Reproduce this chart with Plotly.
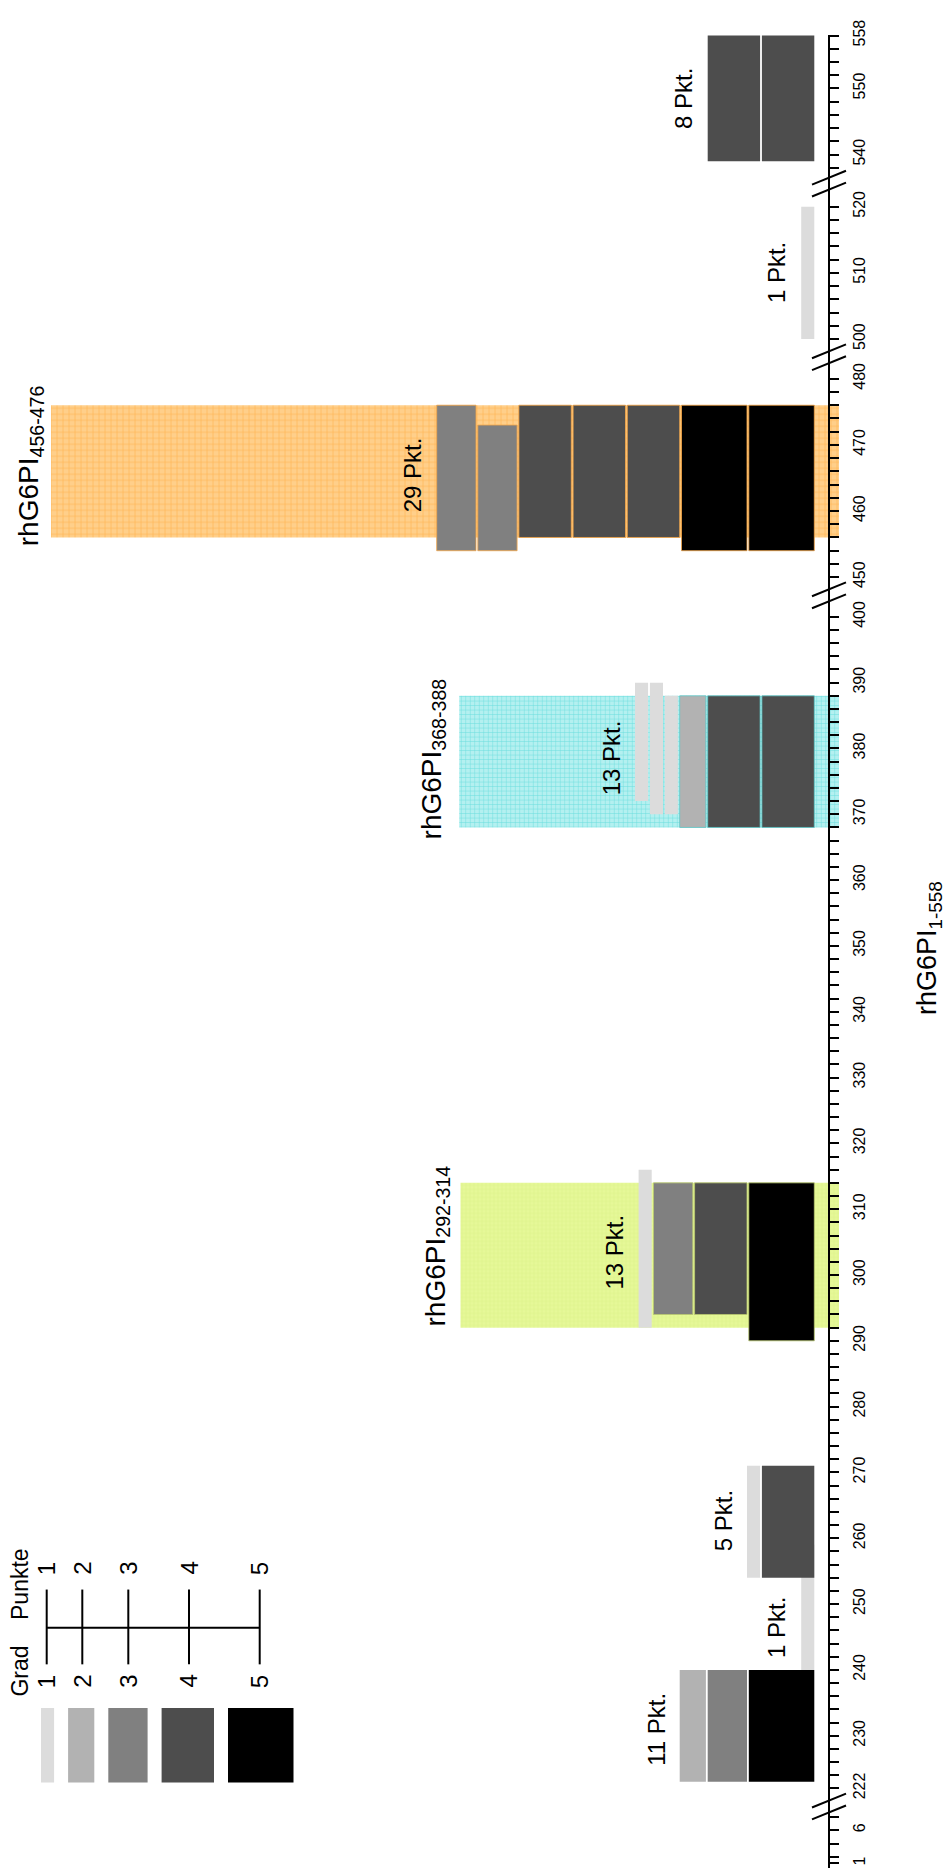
import plotly.graph_objects as go

# ------------------------- data -------------------------
# reactive groups along rhG6PI (residue ranges), stacked from the axis outwards
group_points = [11, 1, 5, 13, 13, 29, 1, 8]
group_starts = [[223, 223, 223], [240], [254, 254], [290, 294, 294, 292],
                [368, 368, 368, 370, 370, 372],
                [454, 454, 456, 456, 456, 454, 454], [500], [539, 539]]
group_ends = [[240, 240, 240], [259], [271, 271], [314, 314, 314, 316],
              [388, 388, 388, 388, 390, 390],
              [476, 476, 476, 476, 476, 473, 476], [520], [558, 558]]
group_grades = [[5, 3, 2], [1], [4, 1], [5, 4, 3, 1],
                [4, 4, 2, 1, 1, 1],
                [5, 5, 4, 4, 4, 3, 3], [1], [4, 4]]

# peptides (highlighted regions)
pep_start = [292, 368, 456]
pep_end = [314, 388, 476]
pep_label = ["292-314", "368-388", "456-476"]
protein_label = "1-558"

# axis tick labels per axis segment (broken axis)
seg_labels = [[1, 6],
              [222, 230, 240, 250, 260, 270, 280, 290, 300, 310, 320, 330,
               340, 350, 360, 370, 380, 390, 400],
              [450, 460, 470, 480],
              [500, 510, 520],
              [540, 550, 558]]
seg_minor = [[2, 4, 6, 8],
             list(range(222, 401, 2)),
             list(range(450, 481, 2)),
             list(range(500, 521, 2)),
             list(range(538, 559, 2))]

legend_grades = [1, 2, 3, 4, 5]
legend_points = [1, 2, 3, 4, 5]

# ------------------------- layout / style -------------------------
W, H = 947, 1868
FONT = "Liberation Sans, Arial, sans-serif"
GRADE_COL = {1: "#DCDCDC", 2: "#B2B2B2", 3: "#808080", 4: "#4D4D4D", 5: "#000000"}
AXIS_X = 829
GW = 13.1          # px per grade
GAP = 1.8
STACK_RIGHT = 814.3
BG_RIGHT = 839
LABEL_OFF = 24

# segments: pixel top, pixel bottom, reference value, its pixel, px per unit
SEGS = [dict(top=1806, bottom=1868, ref=6, ref_px=1830, k=6.667),
        dict(top=585, bottom=1806, ref=400, ref_px=606.7, k=6.635),
        dict(top=345, bottom=585, ref=480, ref_px=366.7, k=6.667),
        dict(top=170, bottom=345, ref=520, ref_px=193.3, k=6.667),
        dict(top=20, bottom=170, ref=558, ref_px=20.7, k=6.667)]
for s in SEGS:
    s["lo"] = s["ref"] - (s["bottom"] - s["ref_px"]) / s["k"]
    s["hi"] = s["ref"] - (s["top"] - s["ref_px"]) / s["k"]

pkt_label_y = [231, 246.4, 262.6, 303.5, 378.5, 465.5, 510, 548.5]
pep_bg_left = [460.5, 459.2, 51]
pep_bg_col = ["#E6F898", "#B4F0F0", "#FFCF8A"]
pep_line_col = ["#D9F182", "#6ADCDC", "#FFB450"]
pep_edge_col = ["#B9C870", "#5EC8C8", "#F2A548"]
pep_pat_size = [4, 4.5, 6]
pep_title_x = [437, 433, 30]
pep_title_y = [291.8, 365.8, 454.3]


def axname(i):
    return "y" if i == 0 else "y%d" % (i + 1)


def seg_of(v):
    for i, s in enumerate(SEGS):
        if s["lo"] <= v <= s["hi"]:
            return i
    return 1


fig = go.Figure()

# make sure every axis segment owns a (hidden) trace so it is drawn
for i, s in enumerate(SEGS):
    fig.add_trace(go.Scatter(x=[None], y=[None], xaxis="x", yaxis=axname(i),
                             mode="markers", showlegend=False,
                             hoverinfo="skip"))

# peptide background regions
for p in range(len(pep_start)):
    si = seg_of(pep_start[p])
    x0 = pep_bg_left[p]
    fig.add_trace(go.Bar(
        x=[(x0 + BG_RIGHT) / 2], width=[BG_RIGHT - x0],
        base=[pep_start[p]], y=[pep_end[p] - pep_start[p]],
        xaxis="x", yaxis=axname(si), showlegend=False, hoverinfo="skip",
        marker=dict(color=pep_bg_col[p], line=dict(width=0),
                    pattern=dict(shape="+", fgcolor=pep_line_col[p],
                                 bgcolor=pep_bg_col[p],
                                 size=pep_pat_size[p], solidity=0.2,
                                 fillmode="replace"))))

# reactivity bars
annotations = []
for gi in range(len(group_points)):
    si = seg_of(group_starts[gi][0])
    edge = None
    for p in range(len(pep_start)):
        if min(group_starts[gi]) <= pep_end[p] and max(group_ends[gi]) >= pep_start[p]:
            edge = pep_edge_col[p]
    xs, ws, bs, ys, cs, lws = [], [], [], [], [], []
    right = STACK_RIGHT
    for st, en, g in zip(group_starts[gi], group_ends[gi], group_grades[gi]):
        w = g * GW
        xs.append(right - w / 2)
        ws.append(w)
        bs.append(st)
        ys.append(en - st)
        cs.append(GRADE_COL[g])
        lws.append(0.8 if (edge and g >= 2) else 0)
        right = right - w - GAP
    left = right + GAP
    fig.add_trace(go.Bar(
        x=xs, width=ws, base=bs, y=ys, xaxis="x", yaxis=axname(si),
        showlegend=False, hoverinfo="skip",
        marker=dict(color=cs, line=dict(width=lws,
                                        color=edge if edge else "white"))))
    annotations.append(dict(
        x=left - LABEL_OFF, y=pkt_label_y[gi], xref="x", yref=axname(si),
        text="%d Pkt." % group_points[gi], textangle=-90, showarrow=False,
        font=dict(family=FONT, size=24, color="black"),
        xanchor="center", yanchor="middle"))

# peptide titles
for p in range(len(pep_start)):
    si = seg_of(pep_title_y[p])
    annotations.append(dict(
        x=pep_title_x[p], y=pep_title_y[p], xref="x", yref=axname(si),
        text="rhG6PI<sub>%s</sub>" % pep_label[p], textangle=-90,
        showarrow=False, font=dict(family=FONT, size=28, color="black"),
        xanchor="center", yanchor="bottom"))

# protein title (axis title)
annotations.append(dict(
    x=929, y=339.2, xref="x", yref="y2",
    text="rhG6PI<sub>%s</sub>" % protein_label, textangle=-90,
    showarrow=False, font=dict(family=FONT, size=27, color="black"),
    xanchor="center", yanchor="bottom"))

# ---------------- legend (pixel axis y6) ----------------
LEG_LEFT = 41
LEG_GAP = 14
LEG_BOX_TOP, LEG_BOX_BOT = 1706.7, 1781.7
lx, lw, lc = [], [], []
cur = LEG_LEFT
for g in legend_grades:
    w = g * GW
    lx.append(cur + w / 2)
    lw.append(w)
    lc.append(GRADE_COL[g])
    cur += w + LEG_GAP
fig.add_trace(go.Bar(
    x=lx, width=lw, base=[LEG_BOX_BOT] * len(lx),
    y=[LEG_BOX_TOP - LEG_BOX_BOT] * len(lx), xaxis="x", yaxis="y6",
    showlegend=False, hoverinfo="skip",
    marker=dict(color=lc, line=dict(width=0))))

SCALE_Y, TICK_TOP, TICK_BOT = 1625.7, 1587.3, 1662.7
scale_x = [46.7, 82.3, 128.3, 189, 259.7]
fig.add_trace(go.Scatter(
    x=[scale_x[0], scale_x[-1]], y=[SCALE_Y, SCALE_Y], mode="lines",
    line=dict(color="black", width=2), xaxis="x", yaxis="y6",
    showlegend=False, hoverinfo="skip"))
vx, vy = [], []
for x in scale_x:
    vx += [x, x, None]
    vy += [TICK_TOP, TICK_BOT, None]
fig.add_trace(go.Scatter(
    x=vx, y=vy, mode="lines", line=dict(color="black", width=2),
    xaxis="x", yaxis="y6", showlegend=False, hoverinfo="skip"))

for x, gl, pt in zip(scale_x, legend_grades, legend_points):
    annotations.append(dict(x=x, y=1680, xref="x", yref="y6", text=str(gl),
                            textangle=-90, showarrow=False,
                            font=dict(family=FONT, size=24, color="black"),
                            xanchor="center", yanchor="middle"))
    annotations.append(dict(x=x, y=1566, xref="x", yref="y6", text=str(pt),
                            textangle=-90, showarrow=False,
                            font=dict(family=FONT, size=24, color="black"),
                            xanchor="center", yanchor="middle"))
annotations.append(dict(x=20, y=1670, xref="x", yref="y6", text="Grad",
                        textangle=-90, showarrow=False,
                        font=dict(family=FONT, size=23, color="black"),
                        xanchor="center", yanchor="middle"))
annotations.append(dict(x=20, y=1581.7, xref="x", yref="y6", text="Punkte",
                        textangle=-90, showarrow=False,
                        font=dict(family=FONT, size=23, color="black"),
                        xanchor="center", yanchor="middle"))

# ---------------- axis break marks ----------------
bx, by = [], []
for i in range(len(SEGS) - 1):
    yc = SEGS[i]["top"]
    for d in (-6, 6):
        bx += [AXIS_X - 17, AXIS_X + 17, None]
        by += [yc + d + 7, yc + d - 7, None]
fig.add_trace(go.Scatter(
    x=bx, y=by, mode="lines", line=dict(color="black", width=2),
    xaxis="x", yaxis="y6", showlegend=False, hoverinfo="skip"))

# ---------------- axes ----------------
layout = dict(
    width=W, height=H, margin=dict(l=0, r=0, t=0, b=0, pad=0),
    paper_bgcolor="white", plot_bgcolor="rgba(0,0,0,0)",
    barmode="overlay", showlegend=False,
    font=dict(family=FONT, color="black"),
    xaxis=dict(range=[0, W], domain=[0, 1], visible=False, fixedrange=True),
    annotations=annotations,
)
for i, s in enumerate(SEGS):
    key = "yaxis" if i == 0 else "yaxis%d" % (i + 1)
    layout[key] = dict(
        domain=[1 - s["bottom"] / H, 1 - s["top"] / H],
        range=[s["lo"], s["hi"]],
        anchor="free", position=AXIS_X / W, side="right",
        showline=True, linecolor="black", linewidth=2,
        showgrid=False, zeroline=False,
        ticks="outside", ticklen=9, tickwidth=1.5, tickcolor="black",
        tickmode="array", tickvals=seg_labels[i],
        ticktext=[str(v) for v in seg_labels[i]],
        tickangle=-90, tickfont=dict(family=FONT, size=16, color="black"),
        ticklabelstandoff=7,
        minor=dict(tickmode="array", tickvals=seg_minor[i], ticklen=9,
                   tickwidth=1.5, tickcolor="black", ticks="outside",
                   showgrid=False),
        fixedrange=True,
    )
layout["yaxis6"] = dict(domain=[0, 1], range=[H, 0], visible=False,
                        anchor="x", fixedrange=True)
fig.update_layout(**layout)

fig.write_html("out.html", include_plotlyjs=True, full_html=True,
               config={"displayModeBar": False})
